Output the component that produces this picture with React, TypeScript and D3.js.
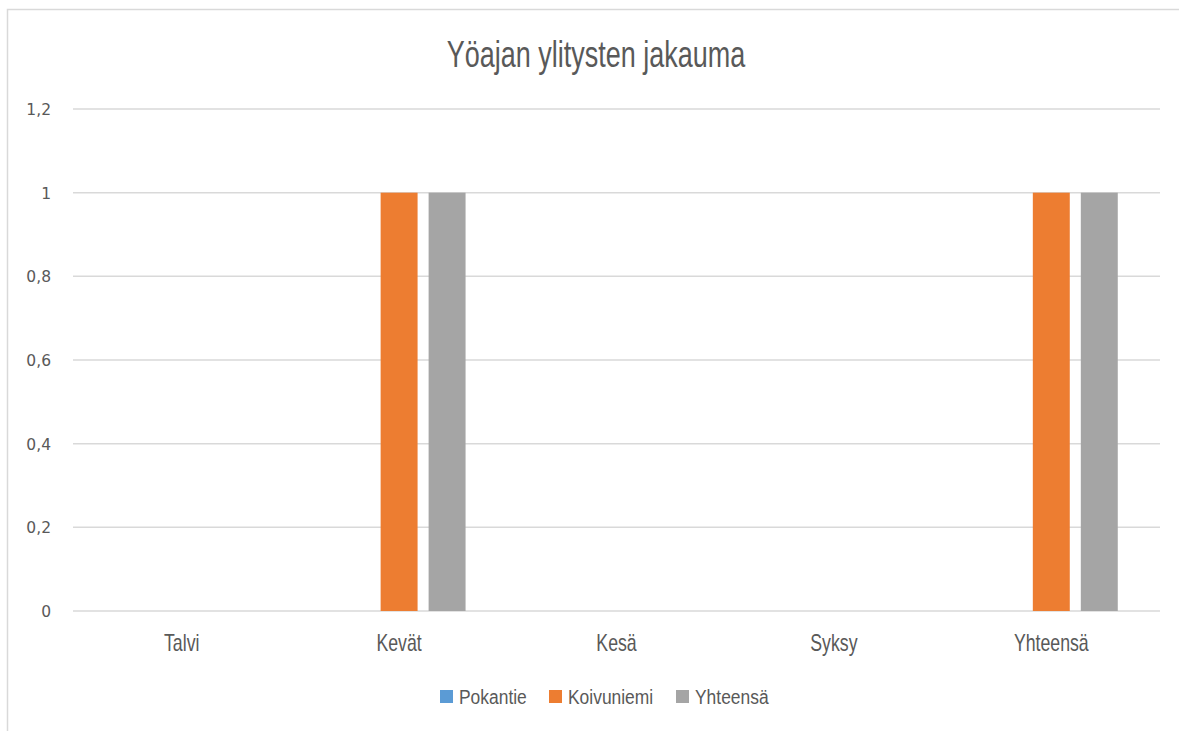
import React from 'react'
import * as d3 from 'd3'

const categories = ['Talvi', 'Kevät', 'Kesä', 'Syksy', 'Yhteensä']
const seriesNames = ['Pokantie', 'Koivuniemi', 'Yhteensä']
const pokantie = [0, 0, 0, 0, 0]
const koivuniemi = [0, 1, 0, 0, 1]
const yhteensa = [0, 1, 0, 0, 1]
const yTicks = [0, 0.2, 0.4, 0.6, 0.8, 1, 1.2]
const colors = ['#5B9BD5', '#ED7D31', '#A5A5A5']

const W = 1179
const H = 731
const sans = "'Liberation Sans', Arial, sans-serif"

export default function App() {
  const values = [pokantie, koivuniemi, yhteensa]
  const margin = { left: 73, right: 1160, top: 109, bottom: 611 }

  const x0 = d3.scaleBand().domain(categories).range([margin.left, margin.right])
  const x1 = d3
    .scaleBand()
    .domain(seriesNames.map((_, i) => String(i)))
    .range([0, x0.bandwidth()])
    .paddingInner(0.23)
    .paddingOuter(0.88)
  const y = d3.scaleLinear().domain([0, 1.2]).range([margin.bottom, margin.top])

  const fmt = (v: number) => String(Math.round(v * 10) / 10).replace('.', ',')

  // legend layout (no condensed font installed, so squeeze horizontally)
  const legendX = [440, 549, 676]

  return (
    <svg
      width={W}
      height={H}
      style={{ position: 'absolute', left: 0, top: 0, background: '#fff' }}
    >
      <rect x={0} y={0} width={W} height={H} fill="#fff" />
      <rect
        x={7.5}
        y={9.5}
        width={W + 10}
        height={H + 10}
        fill="none"
        stroke="#d9d9d9"
        strokeWidth={1.5}
      />
      <text
        transform="translate(596,67) scale(0.75,1)"
        textAnchor="middle"
        fontFamily={sans}
        fontSize={36}
        fill="#595959"
      >
        Yöajan ylitysten jakauma
      </text>

      {yTicks.map(t => (
        <g key={t}>
          <line
            x1={margin.left}
            x2={margin.right}
            y1={y(t)}
            y2={y(t)}
            stroke="#d9d9d9"
            strokeWidth={1.5}
          />
          <text
            x={51}
            y={y(t) + 6}
            textAnchor="end"
            fontFamily="'DejaVu Sans', sans-serif"
            fontSize={15.5}
            fill="#595959"
          >
            {fmt(t)}
          </text>
        </g>
      ))}

      {categories.map((c, ci) => (
        <g key={c} transform={`translate(${x0(c)},0)`}>
          {values.map((vals, si) =>
            vals[ci] > 0 ? (
              <rect
                key={si}
                x={x1(String(si))}
                y={y(vals[ci])}
                width={x1.bandwidth()}
                height={y(0) - y(vals[ci])}
                fill={colors[si]}
              />
            ) : null
          )}
          <text
            transform={`translate(${x0.bandwidth() / 2},651) scale(0.77,1)`}
            textAnchor="middle"
            fontFamily={sans}
            fontSize={23}
            fill="#595959"
          >
            {c}
          </text>
        </g>
      ))}

      {seriesNames.map((s, i) => (
        <g key={s}>
          <rect x={legendX[i]} y={690} width={13} height={13} fill={colors[i]} />
          <text
            transform={`translate(${legendX[i] + 19},704) scale(0.83,1)`}
            fontFamily={sans}
            fontSize={21}
            fill="#595959"
          >
            {s}
          </text>
        </g>
      ))}
    </svg>
  )
}
